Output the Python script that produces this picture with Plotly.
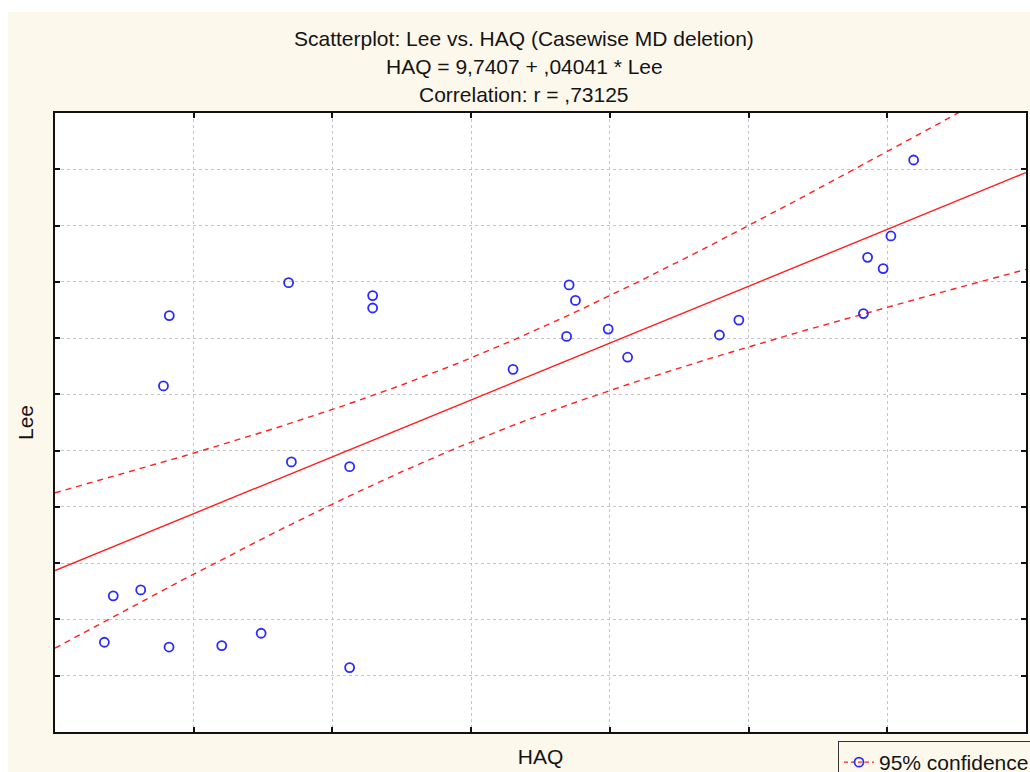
import numpy as np
import plotly.graph_objects as go

# HAQ (x) and Lee (y) observations, casewise complete
haq = [17.8, 21.0, 30.9, 39.1, 41.2, 41.1, 60.1, 74.3, 84.2, 85.2, 106.2, 106.2,
       114.5, 114.5, 165.1, 184.4, 185.3, 187.6, 199.4, 206.4, 239.5, 246.5,
       291.4, 292.9, 298.5, 301.3, 309.5]
lee = [7.19, 8.84, 9.05, 16.30, 18.80, 7.02, 7.07, 7.51, 19.97, 13.60, 13.43, 6.29,
       19.51, 19.07, 16.89, 18.06, 19.89, 19.34, 18.32, 17.32, 18.11, 18.64,
       18.87, 20.87, 20.47, 21.63, 24.33]

# fitted coefficients as reported in the header
intercept = 9.7407
slope = 0.04041
r_value = 0.73125
t_crit = 2.0595  # Student t, 0.975 quantile, df = n - 2 = 25

x_range = [0, 350]
y_range = [4, 26]

x = np.array(haq)
y = np.array(lee)
n = len(x)
resid = y - (intercept + slope * x)
s_err = np.sqrt(np.sum(resid ** 2) / (n - 2))
sxx = np.sum((x - x.mean()) ** 2)

xs = np.linspace(x_range[0], x_range[1], 300)
fit = intercept + slope * xs
half = t_crit * s_err * np.sqrt(1.0 / n + (xs - x.mean()) ** 2 / sxx)

red = "#ff2020"
blue = "#2a2aff"
cream = "#fdf8ec"
ink = "#141414"
fsize = 21

W, H = 1030, 772
ML, MR, MT, MB = 55, 4, 113, 40
PW, PH = W - ML - MR, H - MT - MB

marker_style = dict(symbol="circle-open", size=9, color=blue,
                    line=dict(width=1.8, color=blue))

fig = go.Figure()
fig.add_trace(go.Scatter(x=xs, y=fit + half, mode="lines", showlegend=False,
                         line=dict(color=red, width=1.4, dash="6px,5px")))
fig.add_trace(go.Scatter(x=xs, y=fit - half, mode="lines", showlegend=False,
                         line=dict(color=red, width=1.4, dash="6px,5px")))
fig.add_trace(go.Scatter(x=xs, y=fit, mode="lines", showlegend=False,
                         line=dict(color=red, width=1.4)))
fig.add_trace(go.Scatter(x=haq, y=lee, mode="markers", showlegend=False,
                         marker=marker_style))
# legend key
fig.add_trace(go.Scatter(x=[None], y=[None], mode="lines+markers", name="95% confidence",
                         line=dict(color=red, width=1.4, dash="4px,3px"),
                         marker=marker_style))

axis_common = dict(
    showticklabels=False, ticks="inside", ticklen=5, tickwidth=2, tickcolor="#111",
    showline=True, linecolor="#111", linewidth=2, mirror="ticks",
    showgrid=True, gridcolor="#c4c4c4", griddash="dot", gridwidth=1,
    zeroline=False,
)

fig.update_layout(
    width=W, height=H,
    margin=dict(l=ML, r=MR, t=MT, b=MB, autoexpand=False),
    paper_bgcolor=cream, plot_bgcolor="white",
    font=dict(family="Liberation Sans, Arial, sans-serif", size=fsize, color=ink),
    xaxis=dict(range=x_range, dtick=50, tick0=0,
               title=dict(text="HAQ", standoff=16, font=dict(size=fsize)), **axis_common),
    yaxis=dict(range=y_range, dtick=2, tick0=4,
               title=dict(text="Lee", standoff=14, font=dict(size=fsize)), **axis_common),
    showlegend=True,
    legend=dict(xref="container", yref="container", x=838 / W, y=1 - 741 / H,
                xanchor="left", yanchor="top", bgcolor=cream, bordercolor="#333",
                borderwidth=1, font=dict(size=fsize, color=ink), itemwidth=30,
                tracegroupgap=0),
)

title_lines = [
    "Scatterplot: Lee vs. HAQ (Casewise MD deletion)",
    "HAQ = 9,7407 + ,04041 * Lee",
    "Correlation: r = ,%s" % ("%.5f" % r_value)[2:],
]
for py, txt in zip([38, 67, 95], title_lines):
    fig.add_annotation(text=txt, xref="paper", yref="paper",
                       x=(524 - ML) / PW, y=(H - MB - py) / PH,
                       xanchor="center", yanchor="middle", showarrow=False,
                       font=dict(size=fsize, color=ink))

# white strips along the top and left page edges
fig.add_shape(type="rect", xref="paper", yref="paper",
              x0=-ML / PW - 0.01, x1=1.01, y0=(H - MB - 12) / PH, y1=(H - MB) / PH + 0.01,
              fillcolor="white", line=dict(width=0), layer="above")
fig.add_shape(type="rect", xref="paper", yref="paper",
              x0=-ML / PW - 0.01, x1=(8 - ML) / PW, y0=-MB / PH - 0.01, y1=(H - MB) / PH + 0.01,
              fillcolor="white", line=dict(width=0), layer="above")

fig.write_html("out.html")
